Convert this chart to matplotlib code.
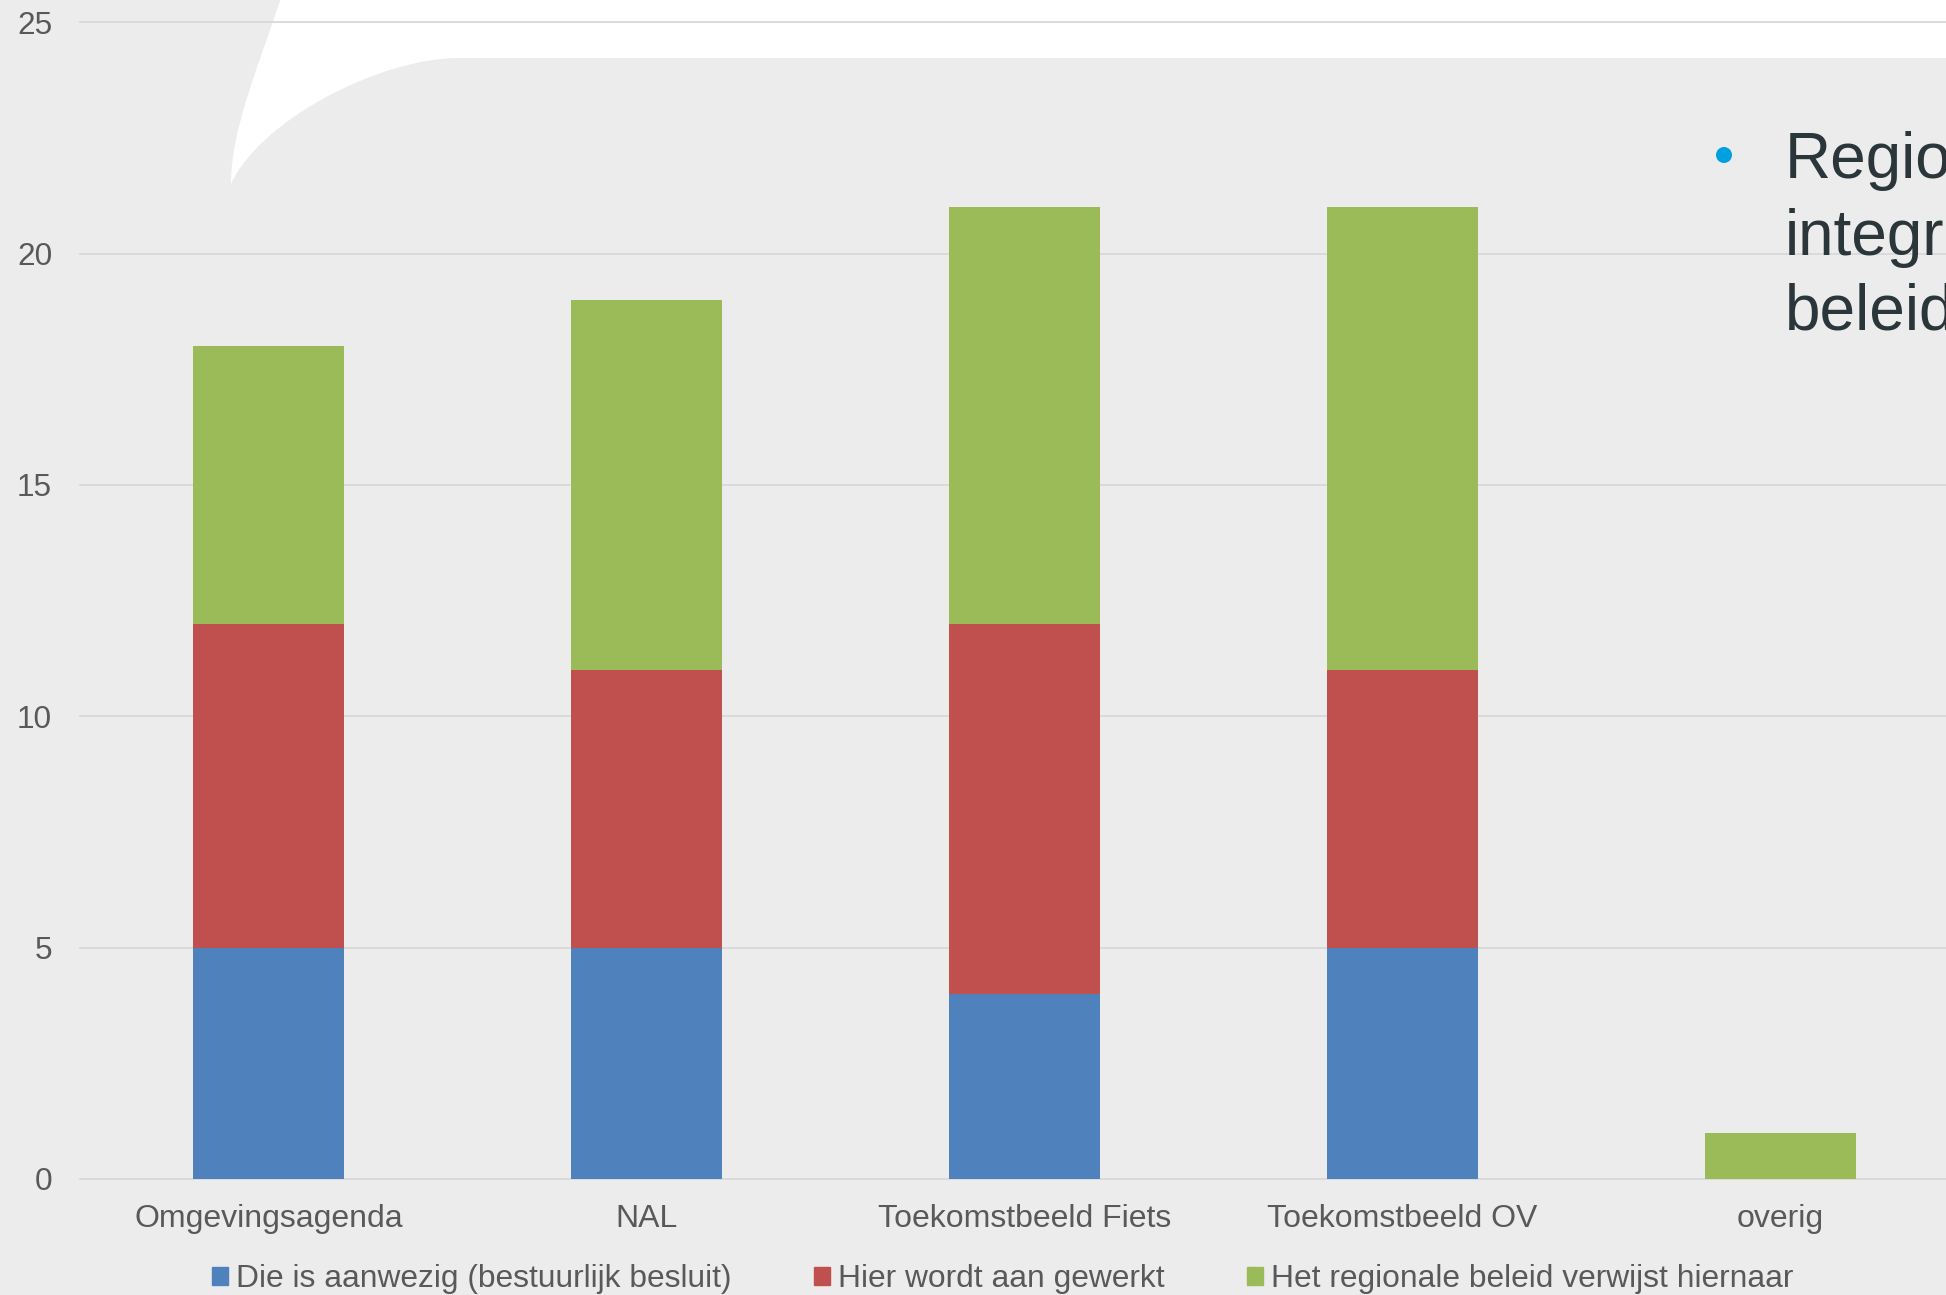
import matplotlib
matplotlib.use("Agg")
import matplotlib.pyplot as plt
import numpy as np
from matplotlib.path import Path
from matplotlib.patches import PathPatch, Ellipse, Patch

plt.rcParams["font.family"] = ["Liberation Sans", "DejaVu Sans"]

categories = ["Omgevingsagenda", "NAL", "Toekomstbeeld Fiets", "Toekomstbeeld OV", "overig"]
aanwezig = [5, 5, 4, 5, 0]
gewerkt = [7, 6, 8, 6, 0]
verwijst = [6, 8, 9, 10, 1]
series_labels = [
    "Die is aanwezig (bestuurlijk besluit)",
    "Hier wordt aan gewerkt",
    "Het regionale beleid verwijst hiernaar",
]
series_colors = ["#4f81bd", "#c0504d", "#9bbb59"]
yticks = [0, 5, 10, 15, 20, 25]
bullet_lines = ["Regio", "integr", "beleid"]

W, H = 1946, 1295
fig = plt.figure(figsize=(W / 100, H / 100), dpi=100, facecolor="#ececec")


def fx(px):
    return px / W


def fy(py):
    return 1 - py / H


# white slide decoration at the top
pts = [
    (281, -2), (257, 70), (231, 130), (231, 184),
    (260, 120), (380, 58), (459, 58),
    (W + 2, 58), (W + 2, -2), (281, -2),
]
codes = [Path.MOVETO, Path.CURVE4, Path.CURVE4, Path.CURVE4,
         Path.CURVE4, Path.CURVE4, Path.CURVE4,
         Path.LINETO, Path.LINETO, Path.CLOSEPOLY]
shape = Path([(fx(a), fy(b)) for a, b in pts], codes)
fig.add_artist(PathPatch(shape, facecolor="white", edgecolor="none",
                         transform=fig.transFigure, zorder=0))

ax = fig.add_axes([80 / W, 116 / H, 1889 / W, 1156.7 / H])
ax.set_facecolor("none")
ax.set_zorder(1)

x = np.arange(len(categories))
bottom2 = np.array(aanwezig)
bottom3 = bottom2 + np.array(gewerkt)
for yt in yticks:
    ax.axhline(yt, color="#d9d9d9", lw=1.3, zorder=0.5, clip_on=False)
ax.bar(x, aanwezig, 0.4, color=series_colors[0], zorder=2)
ax.bar(x, gewerkt, 0.4, bottom=bottom2, color=series_colors[1], zorder=2)
ax.bar(x, verwijst, 0.4, bottom=bottom3, color=series_colors[2], zorder=2)

ax.set_xlim(-0.5, len(categories) - 0.5)
ax.set_ylim(0, 25)
ax.set_yticks(yticks)
ax.set_xticks(x)
ax.set_xticklabels(categories)
for s in ax.spines.values():
    s.set_visible(False)
ax.tick_params(axis="y", length=0, pad=20, labelsize=22.7, labelcolor="#595959")
ax.tick_params(axis="x", length=0, pad=18, labelsize=23, labelcolor="#595959")

# cut-off slide text on the right
ys = [178, 255, 330]
for line, yy in zip(bullet_lines, ys):
    fig.text(fx(1785), fy(yy), line, fontsize=46, color="#2b363b",
             ha="left", va="baseline", zorder=3)
fig.add_artist(Ellipse((fx(1724), fy(155)), 16 / W, 16 / H,
                       transform=fig.transFigure, facecolor="#009fdf",
                       edgecolor="none", zorder=3))

handles = [Patch(color=c, label=l) for c, l in zip(series_colors, series_labels)]
fig.legend(handles=handles, loc="center", bbox_to_anchor=(fx(1003), fy(1279)),
           ncol=3, frameon=False, fontsize=22.9, handlelength=0.5,
           handleheight=0.5, handletextpad=0.25, columnspacing=2.6,
           labelcolor="#595959", borderpad=0, borderaxespad=0)

fig.savefig("out.png", dpi=100, facecolor=fig.get_facecolor())
